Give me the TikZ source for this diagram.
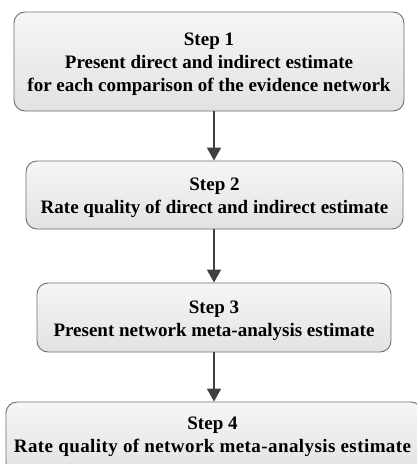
\documentclass[tikz,border=0pt]{standalone}
\usepackage{fontspec}
\setmainfont{Liberation Serif}
\usetikzlibrary{arrows.meta}
\definecolor{boxline}{HTML}{6E6E6E}
\definecolor{boxtop}{HTML}{F6F6F6}
\definecolor{boxbot}{HTML}{E2E2E2}
\definecolor{arrowc}{HTML}{404040}
\tikzset{
  stepbox/.style={draw=boxline, line width=0.9pt, rounded corners=11pt,
    top color=boxtop, bottom color=boxbot, inner sep=0pt},
  steptext/.style={align=center, anchor=north, font=\bfseries\fontsize{19}{23}\selectfont, inner sep=0pt},
  flow/.style={draw=arrowc, line width=2pt, -{Triangle[length=13pt,width=14pt]}}
}
\begin{document}
\begin{tikzpicture}[x=1pt,y=-1pt]
\useasboundingbox (0,0) rectangle (417,464);
\clip (0,0) rectangle (417,464);
\node[stepbox, minimum width=390pt, minimum height=99pt] (b1) at (209,61.5) {};
\node[stepbox, minimum width=377pt, minimum height=68pt] (b2) at (214.5,195) {};
\node[stepbox, minimum width=354pt, minimum height=69pt] (b3) at (214,317.5) {};
\node[stepbox, minimum width=416pt, minimum height=72pt] (b4) at (214,438) {};
\node[steptext] (t1) at (209,33) {Step 1\\Present direct and indirect estimate\\for each comparison of the evidence network};
\node[steptext] (t2) at (214.5,178) {Step 2\\Rate quality of direct and indirect estimate};
\node[steptext] (t3) at (214,301) {Step 3\\Present network meta-analysis estimate};
\node[steptext] (t4) at (212.5,417) {Step 4\\{\addfontfeature{LetterSpace=2.2}Rate quality of network meta-analysis estimate}};
\draw[flow] (b1.south -| 214,0) -- (b2.north -| 214,0);
\draw[flow] (b2.south -| 214,0) -- (b3.north -| 214,0);
\draw[flow] (b3.south -| 214,0) -- (b4.north -| 214,0);
\end{tikzpicture}
\end{document}
